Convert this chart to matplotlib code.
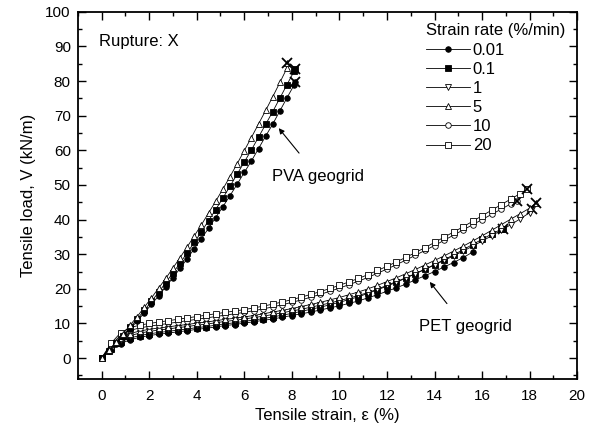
import numpy as np
import matplotlib.pyplot as plt
from matplotlib.ticker import MultipleLocator

plt.rcParams['font.family'] = ['Liberation Sans', 'DejaVu Sans']

rates = ['0.01', '0.1', '1', '5', '10', '20']
markers = {'0.01': ('o', 'black'), '0.1': ('s', 'black'), '1': ('v', 'white'),
           '5': ('^', 'white'), '10': ('o', 'white'), '20': ('s', 'white')}

# PVA geogrid: strain grid (%) and tensile load (kN/m)
pva_strain = [0, 0.3, 0.6, 0.9, 1.2, 1.5, 1.8, 2.1, 2.4, 2.7, 3.0, 3.3, 3.6, 3.9,
              4.2, 4.5, 4.8, 5.1, 5.4, 5.7, 6.0, 6.3, 6.6, 6.9, 7.2, 7.5, 7.8, 8.1]
pva_load = {
    '0.01': [0, 2.0, 4.1, 6.2, 8.4, 10.7, 13.1, 15.5, 18.0, 20.6, 23.2, 25.9, 28.7, 31.6,
             34.5, 37.5, 40.6, 43.7, 46.9, 50.2, 53.6, 56.9, 60.5, 64.1, 67.6, 71.4, 75.2, 78.9],
    '0.1': [0, 2.1, 4.3, 6.5, 8.9, 11.3, 13.8, 16.4, 19.0, 21.8, 24.6, 27.4, 30.4, 33.4,
            36.5, 39.7, 42.9, 46.2, 49.6, 53.1, 56.6, 60.1, 63.8, 67.5, 71.2, 75.1, 79.0, 82.9],
    '5': [0, 2.3, 4.6, 7.0, 9.5, 12.0, 14.7, 17.4, 20.2, 23.0, 26.0, 29.0, 32.1, 35.3,
          38.5, 41.9, 45.3, 48.8, 52.4, 56.1, 59.9, 63.7, 67.6, 71.5, 75.5, 79.6, 83.8],
}
pva_rupture = {'0.01': (8.15, 79.6), '0.1': (8.15, 83.4), '5': (7.8, 85.2)}

# PET geogrid
pet_strain = [0, 0.4, 0.8, 1.2, 1.6, 2.0, 2.4, 2.8, 3.2, 3.6, 4.0, 4.4, 4.8, 5.2, 5.6,
              6.0, 6.4, 6.8, 7.2, 7.6, 8.0, 8.4, 8.8, 9.2, 9.6, 10.0, 10.4, 10.8, 11.2,
              11.6, 12.0, 12.4, 12.8, 13.2, 13.6, 14.0, 14.4, 14.8, 15.2, 15.6, 16.0,
              16.4, 16.8, 17.2, 17.6, 18.0]
pet_load = {
    '0.01': [0, 2.3, 4.2, 5.3, 6.0, 6.5, 6.9, 7.2, 7.6, 7.9,
             8.3, 8.6, 9.0, 9.4, 9.7, 10.1, 10.5, 10.9, 11.3, 11.8,
             12.3, 12.8, 13.3, 13.9, 14.5, 15.1, 15.8, 16.5, 17.4, 18.3,
             19.3, 20.3, 21.4, 22.6, 23.8, 25.0, 26.3, 27.6, 29.0, 30.6],
    '0.1': [0, 2.6, 4.7, 5.8, 6.5, 7.0, 7.4, 7.7, 8.1, 8.4,
            8.8, 9.1, 9.5, 9.9, 10.2, 10.6, 11.0, 11.4, 11.9, 12.4,
            12.9, 13.5, 14.1, 14.7, 15.4, 16.1, 16.9, 17.7, 18.7, 19.7,
            20.8, 21.9, 23.1, 24.4, 25.7, 27.0, 28.4, 29.8, 31.3, 32.8,
            34.3, 35.8, 37.2],
    '1': [0, 3.0, 5.3, 6.5, 7.2, 7.7, 8.1, 8.4, 8.8, 9.1,
          9.5, 9.8, 10.2, 10.6, 10.9, 11.3, 11.7, 12.1, 12.6, 13.1,
          13.6, 14.1, 14.7, 15.3, 15.9, 16.6, 17.3, 18.1, 18.9, 19.9,
          21.0, 22.1, 23.2, 24.4, 25.6, 26.9, 28.2, 29.5, 30.9, 32.3,
          33.8, 35.3, 36.9, 38.5, 40.2, 42.0],
    '5': [0, 3.4, 5.9, 7.1, 7.8, 8.3, 8.7, 9.0, 9.4, 9.7,
          10.1, 10.4, 10.8, 11.2, 11.5, 11.9, 12.3, 12.8, 13.3, 13.8,
          14.3, 14.9, 15.5, 16.1, 16.8, 17.5, 18.3, 19.1, 20.0, 21.0,
          22.1, 23.2, 24.4, 25.6, 26.9, 28.2, 29.5, 30.9, 32.3, 33.8,
          35.3, 36.9, 38.5, 40.1, 41.7, 43.3],
    '10': [0, 3.8, 6.6, 8.0, 8.7, 9.2, 9.6, 10.0, 10.4, 10.8,
           11.2, 11.6, 12.0, 12.4, 12.8, 13.2, 13.7, 14.2, 14.8, 15.4,
           16.1, 16.8, 17.6, 18.4, 19.3, 20.2, 21.2, 22.2, 23.3, 24.5,
           25.7, 27.0, 28.3, 29.7, 31.1, 32.5, 34.0, 35.5, 37.0, 38.5,
           40.0, 41.5, 43.0, 44.5],
    '20': [0, 4.3, 7.3, 8.8, 9.5, 10.0, 10.4, 10.8, 11.2, 11.6,
           12.0, 12.4, 12.8, 13.2, 13.6, 14.0, 14.5, 15.0, 15.6, 16.2,
           16.9, 17.6, 18.4, 19.2, 20.1, 21.0, 22.0, 23.0, 24.1, 25.3,
           26.5, 27.8, 29.1, 30.5, 31.9, 33.4, 34.9, 36.4, 37.9, 39.5,
           41.1, 42.7, 44.3, 45.9, 47.5],
}
pet_rupture = {'0.1': (16.87, 37.4), '1': (18.1, 43.0), '5': (18.25, 44.7),
               '10': (17.45, 45.5), '20': (17.9, 48.8)}

fig = plt.figure(figsize=(5.89, 4.37), dpi=100)
ax = fig.add_axes([0.132, 0.133, 0.848, 0.84])


def draw(strain, load, rupture, label=None):
    for r in rates:
        if r not in load:
            continue
        y = load[r]
        x = strain[:len(y)]
        if r in rupture:
            x = list(x) + [rupture[r][0]]
            y = list(y) + [rupture[r][1]]
        m, fc = markers[r]
        ax.plot(x, y, color='black', lw=0.6, marker=m, ms=4, mfc=fc,
                mec='black', mew=0.6, label=label and r)
        if r in rupture:
            ax.plot(*rupture[r], marker='x', ms=7.5, mew=1.3, color='black')


draw(pet_strain, pet_load, pet_rupture, label=True)
draw(pva_strain, pva_load, pva_rupture)

ax.set_xlim(-1, 20)
ax.set_ylim(-6, 100)
ax.xaxis.set_major_locator(MultipleLocator(2))
ax.xaxis.set_minor_locator(MultipleLocator(1))
ax.yaxis.set_major_locator(MultipleLocator(10))
ax.yaxis.set_minor_locator(MultipleLocator(5))
ax.tick_params(which='both', direction='in', top=True, right=True, labelsize=11)
ax.tick_params(which='major', length=6, width=1)
ax.tick_params(which='minor', length=3, width=1)
ax.tick_params(axis='x', pad=7)
ax.tick_params(axis='y', pad=5)
for s in ax.spines.values():
    s.set_linewidth(1.3)

ax.set_xlabel('Tensile strain, ε (%)', fontsize=12, labelpad=4)
ax.set_ylabel('Tensile load, V (kN/m)', fontsize=12, labelpad=7)

ax.text(-0.1, 90, 'Rupture: X', fontsize=12)
ax.annotate('PVA geogrid', xy=(7.45, 66.4), xytext=(9.1, 52.5), fontsize=12,
            ha='center', va='center',
            arrowprops=dict(arrowstyle='-|>', color='black', lw=0.8,
                            shrinkA=12, shrinkB=0, mutation_scale=8))
ax.annotate('PET geogrid', xy=(13.8, 22.0), xytext=(15.3, 9.0), fontsize=12,
            ha='center', va='center',
            arrowprops=dict(arrowstyle='-|>', color='black', lw=0.8,
                            shrinkA=12, shrinkB=0, mutation_scale=8))

leg = ax.legend(title='Strain rate (%/min)', loc='upper right', frameon=False,
                fontsize=12, title_fontsize=12, handlelength=2.6,
                labelspacing=0.25, borderaxespad=0.3, handletextpad=0.2)
leg._legend_box.align = 'left'

fig.savefig('out.png', dpi=100)
